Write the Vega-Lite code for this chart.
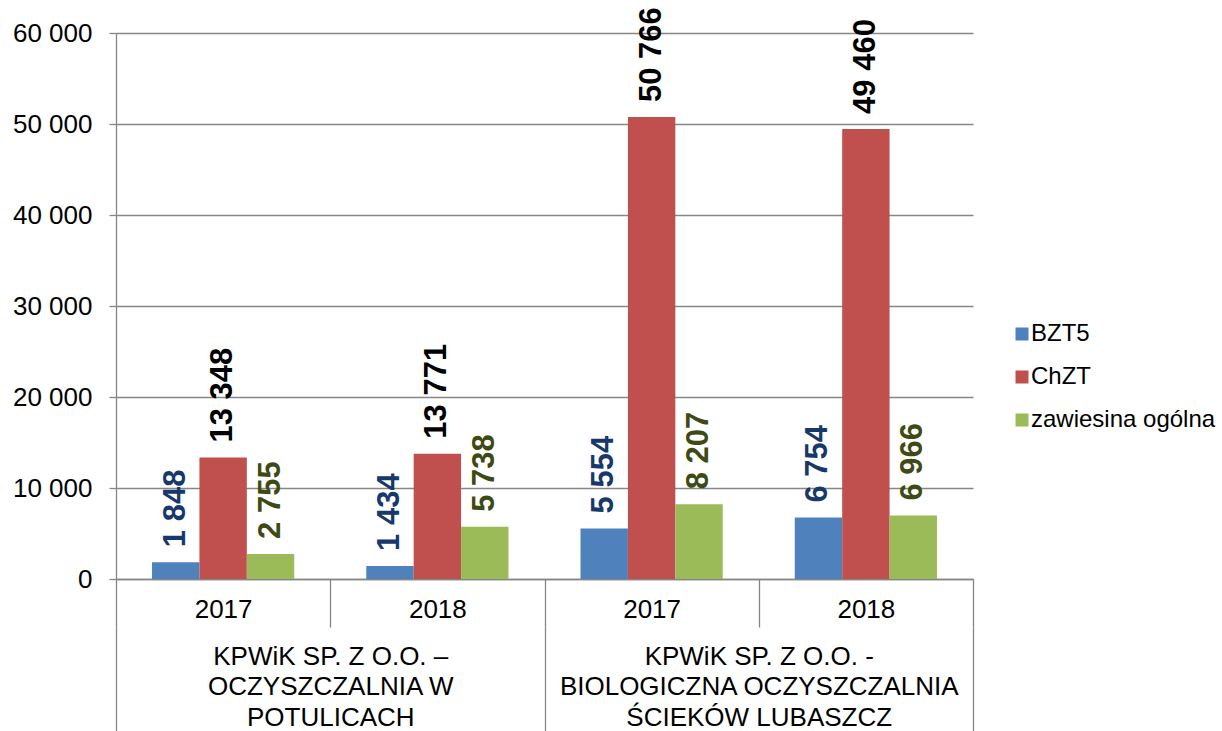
{
  "$schema": "https://vega.github.io/schema/vega-lite/v6.json",
  "autosize": "none",
  "padding": {"left": 116, "top": 33, "right": 249, "bottom": 152},
  "width": 857,
  "height": 546,
  "background": "white",
  "config": {
    "font": "Liberation Sans",
    "view": {"stroke": null},
    "axis": {
      "labelFont": "Liberation Sans",
      "labelFontSize": 26,
      "labelColor": "#000000",
      "domainColor": "#868686",
      "tickColor": "#868686",
      "gridColor": "#868686",
      "domainWidth": 1.3,
      "tickWidth": 1.3,
      "gridWidth": 1.3
    },
    "legend": {"labelFont": "Liberation Sans"}
  },
  "data": {
    "values": [
      {"plant": "KPWiK SP. Z O.O. –\nOCZYSZCZALNIA W\nPOTULICACH", "key": "Potulice 2017", "year": "2017", "series": "BZT5", "value": 1848},
      {"plant": "KPWiK SP. Z O.O. –\nOCZYSZCZALNIA W\nPOTULICACH", "key": "Potulice 2017", "year": "2017", "series": "ChZT", "value": 13348},
      {"plant": "KPWiK SP. Z O.O. –\nOCZYSZCZALNIA W\nPOTULICACH", "key": "Potulice 2017", "year": "2017", "series": "zawiesina ogólna", "value": 2755},
      {"plant": "KPWiK SP. Z O.O. –\nOCZYSZCZALNIA W\nPOTULICACH", "key": "Potulice 2018", "year": "2018", "series": "BZT5", "value": 1434},
      {"plant": "KPWiK SP. Z O.O. –\nOCZYSZCZALNIA W\nPOTULICACH", "key": "Potulice 2018", "year": "2018", "series": "ChZT", "value": 13771},
      {"plant": "KPWiK SP. Z O.O. –\nOCZYSZCZALNIA W\nPOTULICACH", "key": "Potulice 2018", "year": "2018", "series": "zawiesina ogólna", "value": 5738},
      {"plant": "KPWiK SP. Z O.O. -\nBIOLOGICZNA OCZYSZCZALNIA\nŚCIEKÓW LUBASZCZ", "key": "Lubaszcz 2017", "year": "2017", "series": "BZT5", "value": 5554},
      {"plant": "KPWiK SP. Z O.O. -\nBIOLOGICZNA OCZYSZCZALNIA\nŚCIEKÓW LUBASZCZ", "key": "Lubaszcz 2017", "year": "2017", "series": "ChZT", "value": 50766},
      {"plant": "KPWiK SP. Z O.O. -\nBIOLOGICZNA OCZYSZCZALNIA\nŚCIEKÓW LUBASZCZ", "key": "Lubaszcz 2017", "year": "2017", "series": "zawiesina ogólna", "value": 8207},
      {"plant": "KPWiK SP. Z O.O. -\nBIOLOGICZNA OCZYSZCZALNIA\nŚCIEKÓW LUBASZCZ", "key": "Lubaszcz 2018", "year": "2018", "series": "BZT5", "value": 6754},
      {"plant": "KPWiK SP. Z O.O. -\nBIOLOGICZNA OCZYSZCZALNIA\nŚCIEKÓW LUBASZCZ", "key": "Lubaszcz 2018", "year": "2018", "series": "ChZT", "value": 49460},
      {"plant": "KPWiK SP. Z O.O. -\nBIOLOGICZNA OCZYSZCZALNIA\nŚCIEKÓW LUBASZCZ", "key": "Lubaszcz 2018", "year": "2018", "series": "zawiesina ogólna", "value": 6966}
    ]
  },
  "layer": [
    {
      "encoding": {
        "x": {
          "field": "key",
          "type": "nominal",
          "sort": null,
          "scale": {"paddingInner": 0, "paddingOuter": 0},
          "axis": {
            "title": null,
            "orient": "bottom",
            "labelAngle": 0,
            "labelExpr": "isString(datum.value) ? slice(datum.value, -4) : ''",
            "tickBand": "extent",
            "tickSize": 48,
            "labelPadding": -31,
            "labelBaseline": "top",
            "domain": true
          }
        },
        "xOffset": {
          "field": "series",
          "type": "nominal",
          "sort": null,
          "scale": {"paddingInner": 0, "paddingOuter": 0.76}
        },
        "y": {
          "field": "value",
          "type": "quantitative",
          "scale": {"domain": [0, 60000], "nice": false},
          "axis": {
            "title": null,
            "values": [0, 10000, 20000, 30000, 40000, 50000, 60000],
            "labelExpr": "replace(format(datum.value, ','), ',', ' ')",
            "grid": true,
            "tickSize": 7,
            "labelPadding": 17,
            "domain": true
          }
        }
      },
      "layer": [
        {
          "mark": {"type": "bar"},
          "encoding": {
            "color": {
              "field": "series",
              "type": "nominal",
              "sort": null,
              "scale": {"domain": ["BZT5", "ChZT", "zawiesina ogólna"], "range": ["#4F81BD", "#C0504D", "#9BBB59"]},
              "legend": {
                "title": null,
                "orient": "none",
                "legendX": 894,
                "legendY": 289,
                "symbolType": "square",
                "symbolSize": 169,
                "symbolStrokeWidth": 0,
                "labelFontSize": 24,
                "labelColor": "#000000",
                "labelOffset": -3,
                "rowPadding": 19,
                "labelLimit": 300
              }
            }
          }
        },
        {
          "mark": {"type": "text", "angle": 270, "align": "left", "baseline": "middle", "dx": 15, "fontSize": 31, "fontWeight": "bold", "font": "Liberation Sans"},
          "encoding": {
            "text": {"value": {"expr": "replace(format(datum.value, ','), ',', ' ')"}},
            "color": {
              "condition": [
                {"test": "datum.series === 'BZT5'", "value": "#17386A"},
                {"test": "datum.series === 'ChZT'", "value": "#000000"}
              ],
              "value": "#3E4A14"
            }
          }
        }
      ]
    },
    {
      "mark": {"type": "text", "text": ""},
      "encoding": {
        "x": {
          "field": "plant",
          "type": "nominal",
          "sort": null,
          "scale": {"paddingInner": 0, "paddingOuter": 0},
          "axis": {
            "title": null,
            "orient": "bottom",
            "offset": 48,
            "labelAngle": 0,
            "labelExpr": "isString(datum.value) ? split(datum.value, '\\n') : ''",
            "labelLimit": 0,
            "labelLineHeight": 30.5,
            "labelBaseline": "top",
            "tickBand": "extent",
            "tickSize": 104,
            "labelPadding": -88,
            "domain": false
          }
        }
      }
    }
  ],
  "resolve": {"scale": {"x": "independent"}}
}
